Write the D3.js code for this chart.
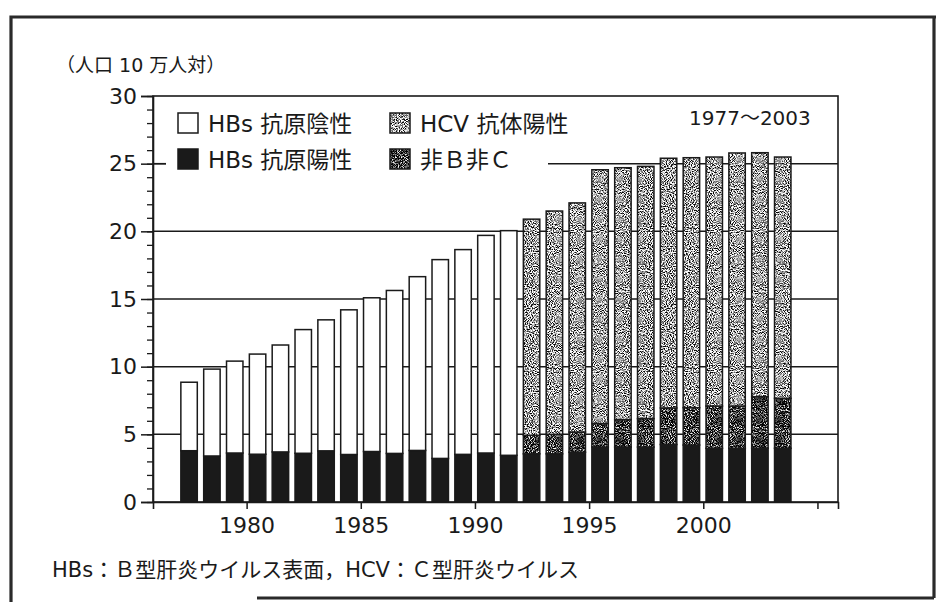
<!DOCTYPE html>
<html>
<head>
<meta charset="utf-8">
<script src="https://cdn.jsdelivr.net/npm/d3@7"></script>
<style>
  body { margin: 0; background: #fff; }
  svg { display: block; }
  text { font-family: "DejaVu Sans", "Noto Sans CJK JP", sans-serif; fill: #1a1a1a; }
</style>
</head>
<body>
<div id="chart"></div>
<script>
// data (per 100,000 population)
var years = [1977, 1978, 1979, 1980, 1981, 1982, 1983, 1984, 1985, 1986, 1987, 1988, 1989, 1990,
             1991, 1992, 1993, 1994, 1995, 1996, 1997, 1998, 1999, 2000, 2001, 2002, 2003];
var hbsPositive = [3.79, 3.40, 3.62, 3.53, 3.70, 3.60, 3.78, 3.51, 3.73, 3.59, 3.81, 3.22, 3.52, 3.62,
                   3.45, 3.56, 3.56, 3.68, 4.06, 4.06, 4.06, 4.25, 4.21, 3.97, 3.97, 3.97, 3.97];
var hbsNegative = [5.06, 6.42, 6.79, 7.40, 7.90, 9.14, 9.68, 10.69, 11.36, 12.04, 12.84, 14.69, 15.13, 16.08,
                   16.60, 0, 0, 0, 0, 0, 0, 0, 0, 0, 0, 0, 0];
var nonBnonC = [0, 0, 0, 0, 0, 0, 0, 0, 0, 0, 0, 0, 0, 0,
                0, 1.37, 1.44, 1.49, 1.74, 2.03, 2.10, 2.70, 2.76, 3.12, 3.12, 3.81, 3.69];
var hcvPositive = [0, 0, 0, 0, 0, 0, 0, 0, 0, 0, 0, 0, 0, 0,
                   0, 15.97, 16.50, 16.93, 18.75, 18.61, 18.64, 18.45, 18.47, 18.40, 18.70, 18.03, 17.83];

var yTicks = [0, 5, 10, 15, 20, 25, 30];
var gridValues = [5, 10, 15, 20, 25];
var xTicks = [1980, 1985, 1990, 1995, 2000, 2005];
var xTickLabels = ["1980", "1985", "1990", "1995", "2000", ""];

var keys = ["hbsPositive", "nonBnonC", "hcvPositive", "hbsNegative"];
var legendItems = [
  { key: "hbsNegative", label: "HBs 抗原陰性" },
  { key: "hbsPositive", label: "HBs 抗原陽性" },
  { key: "hcvPositive", label: "HCV 抗体陽性" },
  { key: "nonBnonC", label: "非Ｂ非Ｃ" }
];

var svgWidth = 936, svgHeight = 602;
var ink = "#1a1a1a";

var svg = d3.select("#chart").append("svg")
  .attr("width", svgWidth)
  .attr("height", svgHeight);

// stipple textures
var defs = svg.append("defs");
function stipple(id, intercept) {
  var f = defs.append("filter").attr("id", "f" + id)
    .attr("color-interpolation-filters", "sRGB");
  f.append("feTurbulence").attr("type", "fractalNoise")
    .attr("baseFrequency", 0.95).attr("numOctaves", 1).attr("seed", 7);
  f.append("feColorMatrix").attr("type", "matrix")
    .attr("values", "1 0 0 0 0  1 0 0 0 0  1 0 0 0 0  0 0 0 0 1");
  var ct = f.append("feComponentTransfer");
  ["feFuncR", "feFuncG", "feFuncB"].forEach(function (fn) {
    ct.append(fn).attr("type", "linear").attr("slope", 4).attr("intercept", intercept);
  });
  ct.append("feFuncA").attr("type", "linear").attr("slope", 0).attr("intercept", 1);
  var p = defs.append("pattern").attr("id", id)
    .attr("patternUnits", "userSpaceOnUse")
    .attr("width", 140).attr("height", 140);
  p.append("rect").attr("width", 140).attr("height", 140)
    .attr("fill", "#999").attr("filter", "url(#f" + id + ")");
}
stipple("light", -1.35);
stipple("dark", -1.8);

var fills = {
  hbsPositive: ink,
  hbsNegative: "#fff",
  hcvPositive: "url(#light)",
  nonBnonC: "url(#dark)"
};

var x = d3.scaleLinear().domain([1975.9, 2005.9]).range([153, 838]);
var y = d3.scaleLinear().domain([0, 30]).range([502, 96]);

// gridlines
svg.append("g").selectAll("line")
  .data(gridValues)
  .join("line")
    .attr("x1", x.range()[0]).attr("x2", x.range()[1])
    .attr("y1", d => y(d)).attr("y2", d => y(d))
    .attr("stroke", ink).attr("stroke-width", 1.5);

// stacked bars
var table = years.map(function (yr, i) {
  return { year: yr, hbsPositive: hbsPositive[i], hbsNegative: hbsNegative[i],
           nonBnonC: nonBnonC[i], hcvPositive: hcvPositive[i] };
});
var stackedData = d3.stack().keys(keys)(table);

svg.append("g")
  .selectAll("g")
  .data(stackedData)
  .join("g")
    .attr("fill", d => fills[d.key])
  .selectAll("rect")
  .data(d => d.filter(s => s[1] - s[0] > 0))
  .join("rect")
    .attr("x", d => x(d.data.year + 0.12))
    .attr("width", d => x(d.data.year + 0.84) - x(d.data.year + 0.12))
    .attr("y", d => y(d[1]))
    .attr("height", d => y(d[0]) - y(d[1]))
    .attr("stroke", ink)
    .attr("stroke-width", 1.5);

// legend (white box hides the 25 gridline)
svg.append("rect")
  .attr("x", 166).attr("y", 100).attr("width", 382).attr("height", 78)
  .attr("fill", "#fff");

var legend = svg.append("g").selectAll("g")
  .data(legendItems)
  .join("g")
    .attr("transform", (d, i) => "translate(" + (i < 2 ? 178 : 390) + "," + (i % 2 === 0 ? 113 : 149) + ")");
legend.append("rect")
  .attr("width", 20).attr("height", 20)
  .attr("fill", d => fills[d.key])
  .attr("stroke", ink).attr("stroke-width", 1.5);
legend.append("text")
  .attr("x", 30).attr("y", 19)
  .style("font-size", "23px")
  .text(d => d.label);

// frame around plot
svg.append("rect")
  .attr("x", 153).attr("y", 96).attr("width", 685).attr("height", 406)
  .attr("fill", "none").attr("stroke", ink).attr("stroke-width", 1.6);

// y axis with minor ticks
var yMinor = svg.append("g")
  .attr("transform", "translate(153,0)")
  .call(d3.axisLeft(y).ticks(30).tickSize(6).tickFormat(""));
yMinor.select(".domain").remove();
yMinor.selectAll("line").attr("stroke", ink).attr("stroke-width", 1.3);

var yAxis = svg.append("g")
  .attr("transform", "translate(153,0)")
  .call(d3.axisLeft(y).tickValues(yTicks).tickSize(12).tickPadding(4));
yAxis.select(".domain").attr("stroke", ink).attr("stroke-width", 1.6);
yAxis.selectAll("line").attr("stroke", ink).attr("stroke-width", 1.5);
yAxis.selectAll("text").style("font-size", "22px").attr("fill", ink);

// short tick to the right of the axis at 25
svg.append("line")
  .attr("x1", 153).attr("x2", 166).attr("y1", y(25)).attr("y2", y(25))
  .attr("stroke", ink).attr("stroke-width", 1.5);

// x axis
var xAxis = svg.append("g")
  .attr("transform", "translate(0,502)")
  .call(d3.axisBottom(x).tickValues(xTicks).tickSize(7).tickPadding(8)
    .tickFormat((d, i) => xTickLabels[i]));
xAxis.select(".domain").attr("stroke", ink).attr("stroke-width", 1.6);
xAxis.selectAll("line").attr("stroke", ink).attr("stroke-width", 1.5);
xAxis.selectAll("text").style("font-size", "22px").attr("fill", ink);

// texts
svg.append("text")
  .attr("x", 56).attr("y", 72)
  .style("font-size", "19px")
  .text("（人口 10 万人対）");

svg.append("text")
  .attr("x", 689).attr("y", 125)
  .style("font-size", "20px")
  .text("1977～2003");

svg.append("text")
  .attr("x", 52).attr("y", 577)
  .style("font-size", "21px")
  .text("HBs：Ｂ型肝炎ウイルス表面，HCV：Ｃ型肝炎ウイルス");

// outer frame of the figure
var outer = svg.append("g").attr("stroke", "#2a2a2a").attr("stroke-width", 3.2).attr("fill", "none");
outer.append("path").attr("d", "M11,602 V17 H936");
outer.append("path").attr("d", "M934,17 V598");
outer.append("path").attr("d", "M257,598 H934");
</script>
</body>
</html>
